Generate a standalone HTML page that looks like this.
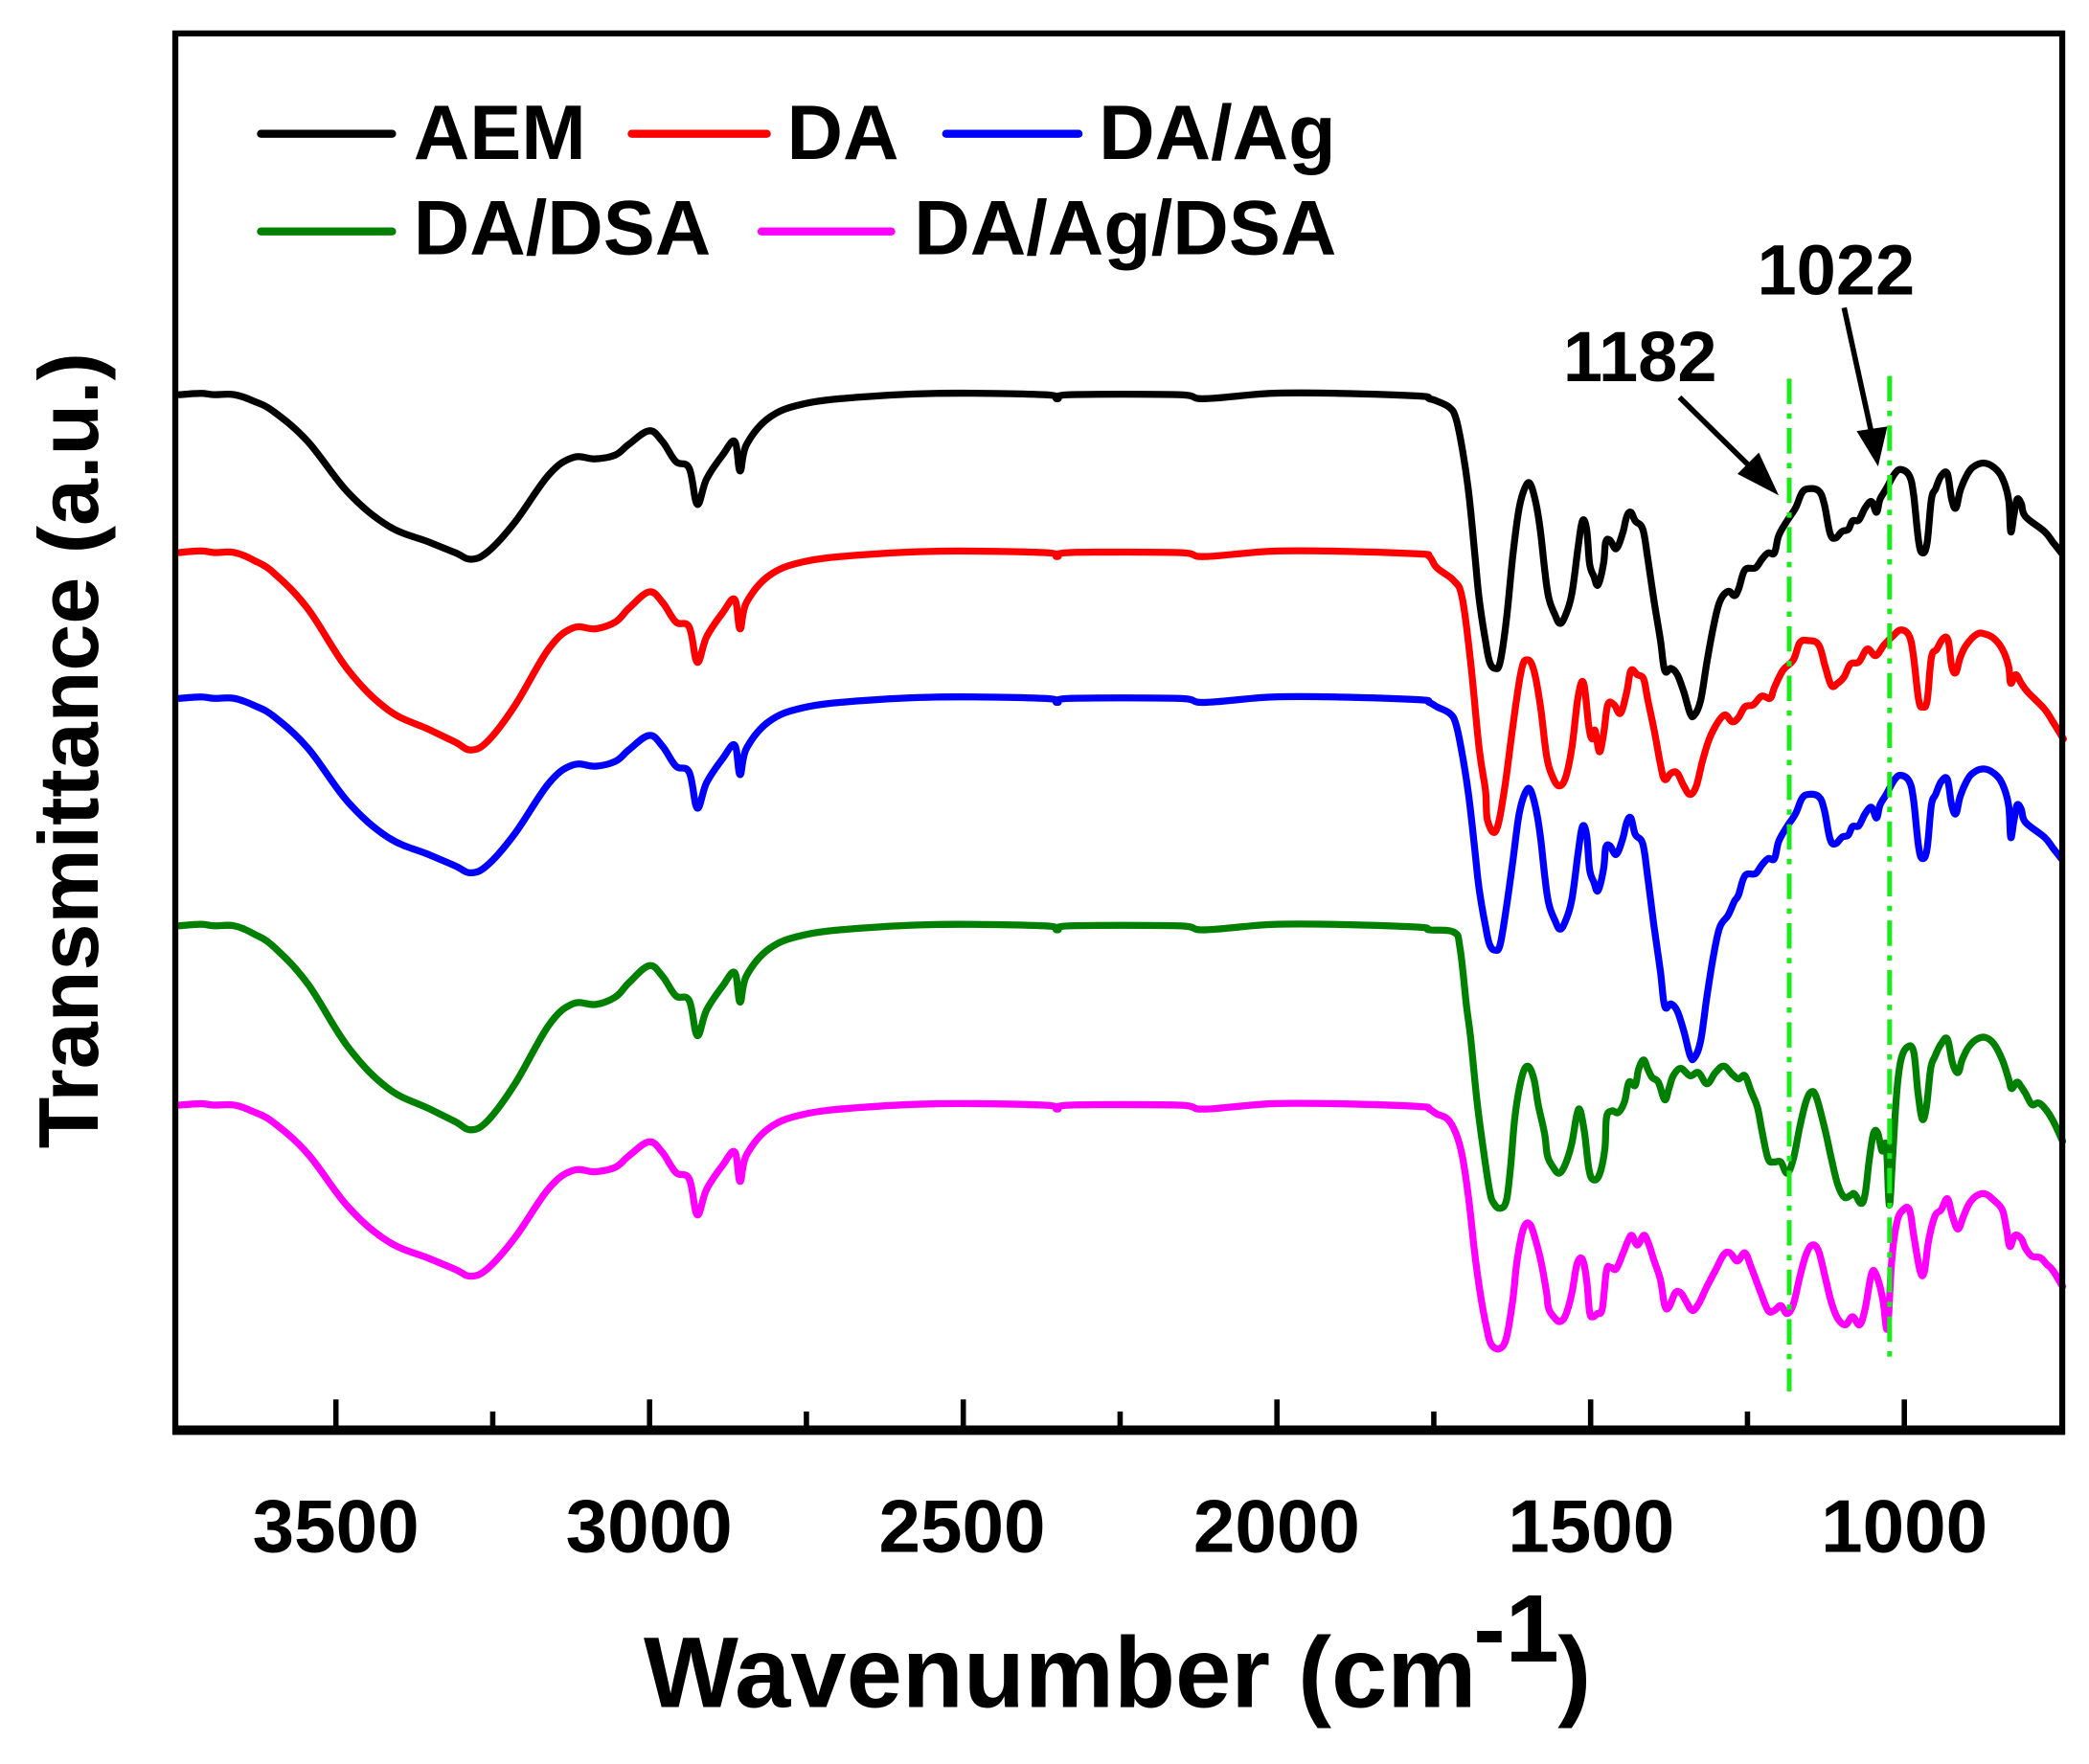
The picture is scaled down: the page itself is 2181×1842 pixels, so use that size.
<!DOCTYPE html>
<html><head><meta charset="utf-8"><style>
html,body{margin:0;padding:0;background:#fff;}
svg{display:block;}
text{font-family:"Liberation Sans",Arial,sans-serif;font-weight:bold;fill:#000;}
</style></head><body>
<svg id="s" xmlns="http://www.w3.org/2000/svg" width="2181" height="1842" viewBox="0 0 1561 1318.5" preserveAspectRatio="none">
<rect x="0" y="0" width="1561" height="1318.5" fill="#fff"/>
<g id="curves" fill="none" stroke-width="5.2" stroke-linejoin="round" stroke-linecap="round"></g>
<g stroke="#1aeb1a" stroke-width="3.6" stroke-dasharray="19 7 4 7">
<line x1="1337" y1="283" x2="1337" y2="1040"/>
<line x1="1412" y1="281" x2="1412" y2="1020"/>
</g>
<rect x="131" y="25" width="1410" height="1045" fill="none" stroke="#000" stroke-width="4.5"/>
<line x1="129" y1="1069" x2="1543" y2="1069" stroke="#000" stroke-width="7"/>
<g id="ticks" stroke="#000" stroke-width="4"></g>
<g font-size="56" text-anchor="middle">
<text x="251" y="1160">3500</text><text x="485" y="1160">3000</text><text x="719" y="1160">2500</text>
<text x="954" y="1160">2000</text><text x="1189" y="1160">1500</text><text x="1423" y="1160">1000</text>
</g>
<text x="481" y="1276" font-size="75">Wavenumber (cm</text>
<text x="1101" y="1242" font-size="72">-1</text>
<text x="1164" y="1276" font-size="75">)</text>
<text transform="translate(73,561) rotate(-90)" font-size="63" text-anchor="middle">Transmittance (a.u.)</text>
<g stroke-width="6" stroke-linecap="round">
<line x1="195" y1="100" x2="293" y2="100" stroke="#000"/>
<line x1="472" y1="100" x2="573" y2="100" stroke="#ff0000"/>
<line x1="707" y1="100" x2="806" y2="100" stroke="#0000ff"/>
<line x1="195" y1="173" x2="293" y2="173" stroke="#008000"/>
<line x1="569" y1="173" x2="666" y2="173" stroke="#ff00ff"/>
</g>
<g font-size="58">
<text x="309" y="119">AEM</text><text x="588" y="119">DA</text><text x="821" y="119">DA/Ag</text>
<text x="309" y="190">DA/DSA</text><text x="683" y="190">DA/Ag/DSA</text>
</g>
<text x="1168" y="285" font-size="53">1182</text>
<text x="1313" y="220" font-size="53">1022</text>
<g stroke="#000" stroke-width="4" fill="#000">
<line x1="1255" y1="297" x2="1312" y2="353"/>
<polygon points="1327,368 1300,354 1314,340" stroke-width="2"/>
<line x1="1378" y1="230" x2="1399" y2="326"/>
<polygon points="1403,346 1389,323 1409,320" stroke-width="2"/>
</g>
</svg>
<script>
(function(){
var NS="http://www.w3.org/2000/svg";
var tk=document.getElementById('ticks');
for(var k=0;k<12;k++){var x=251+117.2*k; if(x>1535)break; var l=document.createElementNS(NS,'line');
l.setAttribute('x1',x);l.setAttribute('x2',x);l.setAttribute('y1',1068);l.setAttribute('y2',k%2?1055:1046);tk.appendChild(l);}
var left=[[134,0],[150,-1],[160,0],[175,0],[190,5],[205,13],[230,35],[260,73],[290,98],[320,110],[340,118],[352,123],[365,117],[385,95],[410,60],[428,47],[445,48],[460,45],[470,37],[485,27],[495,35],[505,50],[515,55],[521,82],[528,63],[540,45],[549,35],[553,57],[558,37],[575,17],[600,7],[640,2],[700,-1],[780,0],[790,3],[800,0],[880,0],[900,3],[950,-1],[1000,-1],[1060,1],[1068,3]];
function leftPts(base,f){return left.map(function(p){var x=p[0],r=p[1];var ff=x<440?f:(x<520?f+(1-f)*(x-440)/80:1);return [x,base+r*ff];});}
var blk=[[0,490],[30,505],[45,530],[60,600],[75,700],[90,850],[100,950],[115,1050],[125,1100],[138,1115],[150,1100],[165,1000],[180,850],[195,740],[210,690],[222,685],[235,730],[245,790],[255,880],[265,950],[280,990],[292,1010],[305,990],[320,940],[335,830],[345,770],[355,790],[362,870],[372,900],[382,920],[395,870],[400,820],[410,815],[425,835],[440,800],[450,760],[460,750],[470,770],[488,790],[500,860],[515,960],[530,1050],[540,1120],[555,1115],[570,1130],[585,1170],[600,1220],[610,1225],[625,1190],[640,1100],[655,1020],[670,960],[690,935],[705,945],[715,930],[730,885],[755,880],[770,860],[785,845],[800,845],[810,805],[830,770],[850,740],[865,705],[880,695],[905,700],[918,730],[932,800],[945,810],[960,795],[975,790],[985,770],[1000,768],[1015,740],[1030,725],[1042,750],[1050,720],[1065,695],[1085,660],[1100,650],[1120,665],[1130,710],[1142,820],[1152,845],[1162,820],[1172,720],[1182,695],[1195,665],[1210,660],[1220,720],[1230,740],[1240,700],[1255,665],[1270,645],[1295,635],[1320,645],[1340,670],[1355,720],[1360,795],[1367,760],[1375,720],[1385,730],[1395,760],[1440,795],[1460,820],[1480,845]];
var red=[[0,880],[40,910],[60,950],[80,1100],[100,1300],[115,1400],[120,1470],[140,1495],[160,1400],[180,1250],[200,1120],[215,1095],[230,1120],[245,1200],[260,1320],[275,1370],[290,1390],[305,1370],[320,1300],[335,1180],[348,1150],[360,1250],[368,1280],[375,1260],[385,1310],[395,1270],[405,1200],[420,1200],[435,1220],[450,1170],[460,1120],[475,1130],[490,1140],[500,1190],[515,1260],[530,1340],[540,1375],[555,1360],[570,1360],[585,1390],[600,1410],[615,1390],[630,1330],[650,1270],[680,1225],[700,1240],[715,1230],[730,1205],[750,1200],[770,1180],[790,1185],[800,1160],[820,1120],[845,1095],[860,1055],[880,1050],[905,1060],[920,1110],[935,1155],[950,1150],[965,1135],[980,1105],[1000,1100],[1020,1070],[1040,1085],[1060,1060],[1080,1040],[1100,1025],[1120,1040],[1130,1090],[1142,1190],[1152,1205],[1162,1190],[1172,1090],[1185,1070],[1200,1045],[1212,1050],[1220,1110],[1230,1125],[1240,1090],[1255,1060],[1280,1035],[1300,1035],[1320,1045],[1340,1070],[1355,1110],[1360,1150],[1372,1130],[1385,1150],[1400,1170],[1440,1210],[1460,1240],[1485,1280]];
var blu=blk.map(function(p){var e=0;if(p[0]>=470&&p[0]<=700)e=0.15*Math.max(0,p[1]-650);if(p[0]>=60&&p[0]<=170)e=-0.12*Math.max(0,p[1]-650);return [p[0],p[1]+715+e];});
var grn=[[40,-230],[55,-180],[70,0],[80,100],[95,300],[110,450],[125,580],[135,620],[150,635],[165,610],[175,500],[185,350],[200,230],[215,190],[230,230],[240,310],[255,400],[262,470],[275,505],[290,525],[305,495],[320,430],[332,340],[340,330],[350,400],[360,510],[370,545],[385,530],[398,450],[402,350],[415,330],[430,335],[445,300],[455,240],[470,250],[478,200],[490,170],[500,200],[510,225],[525,240],[540,295],[550,260],[560,220],[578,197],[600,220],[620,210],[640,245],[660,210],[680,190],[700,215],[715,230],[730,220],[745,270],[760,320],[770,390],[785,480],[800,490],[815,490],[830,525],[845,480],[860,380],[875,300],[888,270],[900,290],[920,390],[935,480],[950,560],[965,600],[980,595],[990,590],[1005,620],[1015,590],[1025,480],[1035,400],[1045,400],[1055,455],[1065,440],[1072,625],[1080,480],[1090,270],[1100,170],[1115,130],[1130,145],[1140,270],[1150,355],[1160,320],[1170,200],[1180,160],[1195,120],[1210,105],[1222,180],[1235,210],[1245,170],[1260,130],[1280,105],[1300,100],[1320,120],[1340,170],[1355,230],[1362,260],[1375,240],[1385,255],[1395,275],[1410,310],[1425,305],[1440,320],[1460,360],[1483,425]];
var mag=[[0,340],[25,355],[45,400],[60,470],[75,600],[90,780],[105,920],[118,1010],[128,1060],[148,1075],[165,1040],[180,920],[190,800],[205,700],[220,685],[235,740],[248,810],[260,900],[265,950],[280,980],[292,990],[305,970],[320,900],[332,810],[345,795],[355,860],[362,960],[370,975],[380,965],[392,950],[402,830],[412,820],[425,825],[440,780],[452,740],[462,720],[475,750],[490,720],[500,740],[515,800],[530,860],[540,940],[550,945],[565,900],[578,900],[590,925],[605,955],[620,935],[640,880],[660,830],[680,780],[695,775],[712,800],[730,775],[745,820],[765,890],[785,955],[800,955],[815,940],[830,965],[845,935],[860,850],[875,780],[890,750],[905,770],[920,850],[935,930],[950,980],[968,1000],[985,975],[1002,1000],[1015,950],[1030,840],[1040,840],[1050,880],[1058,930],[1068,1010],[1078,800],[1090,680],[1105,640],[1120,640],[1130,720],[1145,830],[1155,835],[1165,740],[1180,660],[1195,640],[1210,605],[1222,660],[1235,700],[1248,660],[1262,620],[1280,595],[1300,590],[1320,610],[1340,640],[1350,700],[1358,755],[1370,720],[1385,730],[1395,760],[1410,785],[1430,790],[1445,810],[1460,830],[1483,880]];
function z2(a){return a.map(function(p){return [p[0]*0.3153+1073.7,p[1]*0.3196+143.2];});}
function z3(a){return a.map(function(p){return [p[0]*0.3153+1073.7,p[1]*0.2386+751.6];});}
var series=[
 ['#000000',leftPts(295,1),z2(blk)],
 ['#ff0000',leftPts(413,1.2),z2(red)],
 ['#0000ff',leftPts(522,1.06),z2(blu)],
 ['#008000',leftPts(692,1.24),z3(grn)],
 ['#ff00ff',leftPts(826,1.04),z3(mag)]
];
function smooth(P){var t=0.18,d='M'+P[0][0].toFixed(1)+','+P[0][1].toFixed(1);
 for(var i=0;i<P.length-1;i++){var p0=P[i>0?i-1:i],p1=P[i],p2=P[i+1],p3=P[i+2<P.length?i+2:i+1];
 var c1x=p1[0]+(p2[0]-p0[0])*t,c1y=p1[1]+(p2[1]-p0[1])*t,c2x=p2[0]-(p3[0]-p1[0])*t,c2y=p2[1]-(p3[1]-p1[1])*t;
 d+=' C'+c1x.toFixed(1)+','+c1y.toFixed(1)+' '+c2x.toFixed(1)+','+c2y.toFixed(1)+' '+p2[0].toFixed(1)+','+p2[1].toFixed(1);}
 return d;}
var g=document.getElementById('curves');
series.forEach(function(s){
 var pts=s[1].concat(s[2]);
 var path=document.createElementNS(NS,'path');path.setAttribute('d',smooth(pts));path.setAttribute('stroke',s[0]);g.appendChild(path);
});
})();
</script>
</body></html>
